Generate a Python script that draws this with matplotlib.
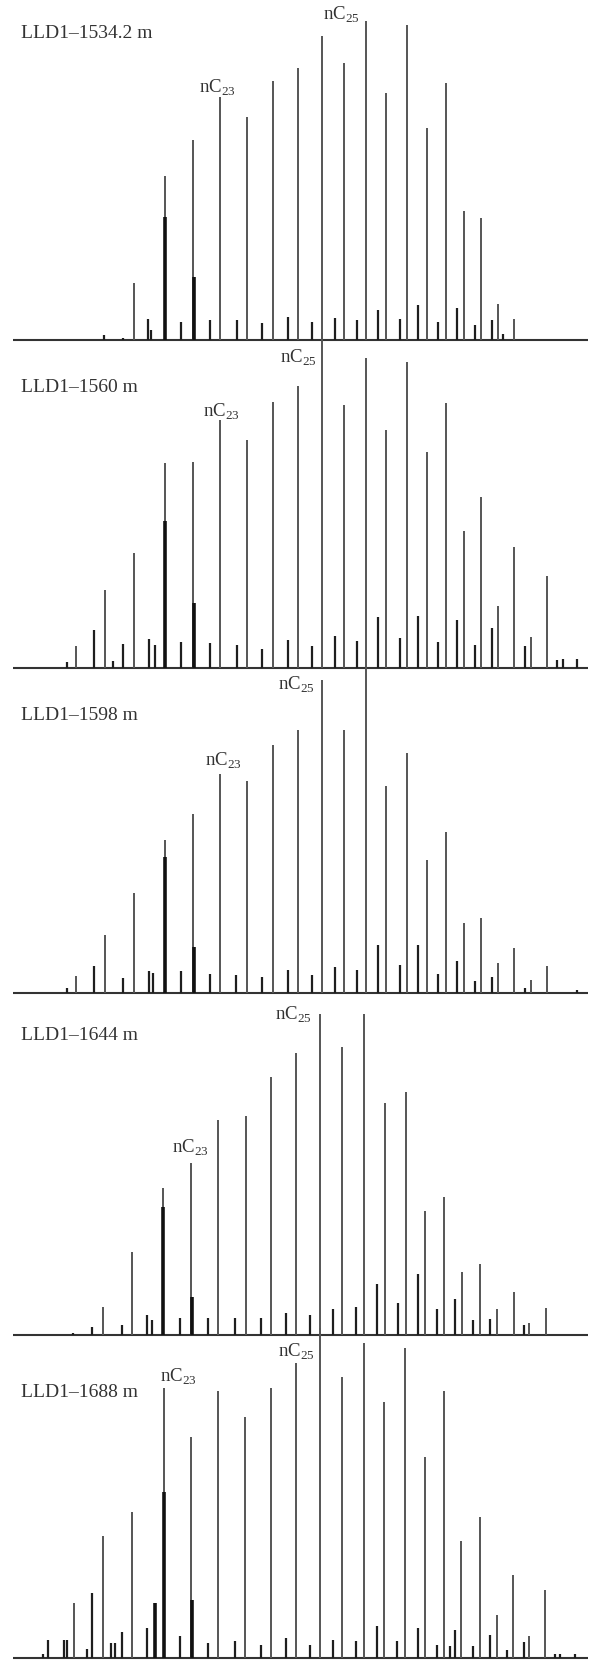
import matplotlib
matplotlib.use("Agg")
import matplotlib.pyplot as plt

plt.rcParams['font.family'] = ['Liberation Serif', 'DejaVu Serif']
plt.rcParams['mathtext.fontset'] = 'custom'
plt.rcParams['mathtext.rm'] = 'Liberation Serif'

# ---------------- data ----------------
sample_names = ["LLD1–1534.2 m", "LLD1–1560 m", "LLD1–1598 m", "LLD1–1644 m", "LLD1–1688 m"]

# n-alkane (major) peaks: retention position, height
p1_major_x = [134, 165, 193, 220, 247, 273, 298, 322, 344, 366, 386, 407, 427, 446, 464, 481, 498, 514]
p1_major_h = [57, 164, 200, 243, 223, 259, 272, 304, 277, 319, 247, 315, 212, 257, 129, 122, 36, 21]
p1_minor_x = [104, 123, 148, 151, 181, 210, 237, 262, 288, 312, 335, 357, 378, 400, 418, 438, 457, 475, 492, 503]
p1_minor_h = [5, 2, 21, 10, 18, 20, 20, 17, 23, 18, 22, 20, 30, 21, 35, 18, 32, 15, 20, 6]
p1_thick_x = [165, 194]
p1_thick_h = [123, 63]

p2_major_x = [76, 105, 134, 165, 193, 220, 247, 273, 298, 322, 344, 366, 386, 407, 427, 446, 464, 481, 498, 514, 531, 547]
p2_major_h = [22, 78, 115, 205, 206, 248, 228, 266, 282, 335, 263, 310, 238, 306, 216, 265, 137, 171, 62, 121, 31, 92]
p2_minor_x = [67, 94, 113, 123, 149, 155, 181, 210, 237, 262, 288, 312, 335, 357, 378, 400, 418, 438, 457, 475, 492, 525, 557, 563, 577]
p2_minor_h = [6, 38, 7, 24, 29, 23, 26, 25, 23, 19, 28, 22, 32, 27, 51, 30, 52, 26, 48, 23, 40, 22, 8, 9, 9]
p2_thick_x = [165, 194]
p2_thick_h = [147, 65]

p3_major_x = [76, 105, 134, 165, 193, 220, 247, 273, 298, 322, 344, 366, 386, 407, 427, 446, 464, 481, 498, 514, 531, 547]
p3_major_h = [17, 58, 100, 153, 179, 219, 212, 248, 263, 313, 263, 325, 207, 240, 133, 161, 70, 75, 30, 45, 13, 27]
p3_minor_x = [67, 94, 123, 149, 153, 181, 210, 236, 262, 288, 312, 335, 357, 378, 400, 418, 438, 457, 475, 492, 525, 577]
p3_minor_h = [5, 27, 15, 22, 20, 22, 19, 18, 16, 23, 18, 26, 23, 48, 28, 48, 19, 32, 12, 16, 5, 3]
p3_thick_x = [165, 194]
p3_thick_h = [136, 46]

p4_major_x = [103, 132, 163, 191, 218, 246, 271, 296, 320, 342, 364, 385, 406, 425, 444, 462, 480, 497, 514, 529, 546]
p4_major_h = [28, 83, 147, 172, 215, 219, 258, 282, 321, 288, 321, 232, 243, 124, 138, 63, 71, 26, 43, 12, 27]
p4_minor_x = [73, 92, 122, 147, 152, 180, 208, 235, 261, 286, 310, 333, 356, 377, 398, 418, 437, 455, 473, 490, 524]
p4_minor_h = [2, 8, 10, 20, 15, 17, 17, 17, 17, 22, 20, 26, 28, 51, 32, 61, 26, 36, 15, 16, 10]
p4_thick_x = [163, 192]
p4_thick_h = [128, 38]

p5_major_x = [74, 103, 132, 164, 191, 218, 245, 271, 296, 320, 342, 364, 384, 405, 425, 444, 461, 480, 497, 513, 529, 545]
p5_major_h = [55, 122, 146, 270, 221, 267, 241, 270, 295, 330, 281, 315, 256, 310, 201, 267, 117, 141, 43, 83, 22, 68]
p5_minor_x = [43, 48, 64, 67, 87, 92, 111, 115, 122, 147, 180, 208, 235, 261, 286, 310, 333, 356, 377, 397, 418, 437, 450, 455, 473, 490, 507, 524, 555, 560, 575]
p5_minor_h = [4, 18, 18, 18, 9, 65, 15, 15, 26, 30, 22, 15, 17, 13, 20, 13, 18, 17, 32, 17, 30, 13, 12, 28, 12, 23, 8, 16, 4, 4, 4]
p5_thick_x = [155, 164, 192]
p5_thick_h = [55, 166, 58]

# labelled peaks: label centre (x, height above baseline)
c23_label_x = [217, 221, 223, 190, 178]
c23_label_y = [252, 256, 232, 187, 281]
c25_label_x = [341, 298, 296, 293, 296]
c25_label_y = [325, 310, 308, 320, 306]

majors_x = [p1_major_x, p2_major_x, p3_major_x, p4_major_x, p5_major_x]
majors_h = [p1_major_h, p2_major_h, p3_major_h, p4_major_h, p5_major_h]
minors_x = [p1_minor_x, p2_minor_x, p3_minor_x, p4_minor_x, p5_minor_x]
minors_h = [p1_minor_h, p2_minor_h, p3_minor_h, p4_minor_h, p5_minor_h]
thicks_x = [p1_thick_x, p2_thick_x, p3_thick_x, p4_thick_x, p5_thick_x]
thicks_h = [p1_thick_h, p2_thick_h, p3_thick_h, p4_thick_h, p5_thick_h]

# ---------------- layout ----------------
W, H = 592, 1660
baselines_px = [340, 668, 993, 1335, 1658]
name_label_y = [307, 280, 278, 300, 266]   # height of the sample name above baseline
panel_h = 330

fig = plt.figure(figsize=(W / 100, H / 100), dpi=100)
fig.patch.set_facecolor('white')

for i in range(5):
    b = baselines_px[i]
    ax = fig.add_axes([0, (H - b) / H, 1, panel_h / H])
    ax.set_xlim(0, W)
    ax.set_ylim(0, panel_h)
    ax.axis('off')
    ax.hlines(0, 13, 588, color='#333333', lw=1.5, clip_on=False)
    ax.vlines(majors_x[i], 0, majors_h[i], color='#555555', lw=1.4, clip_on=False)
    ax.vlines(minors_x[i], 0, minors_h[i], color='#1e1e1e', lw=1.6, clip_on=False)
    ax.vlines(thicks_x[i], 0, thicks_h[i], color='#111111', lw=2.6, clip_on=False)
    ax.text(21, name_label_y[i], sample_names[i], ha='left', va='center',
            fontsize=14, color='#333333')
    ax.text(c23_label_x[i], c23_label_y[i], r"nC$_{23}$", ha='center', va='center',
            fontsize=13.5, color='#333333', clip_on=False)
    ax.text(c25_label_x[i], c25_label_y[i], r"nC$_{25}$", ha='center', va='center',
            fontsize=13.5, color='#333333', clip_on=False)

fig.savefig("out.png", dpi=100, facecolor='white')
